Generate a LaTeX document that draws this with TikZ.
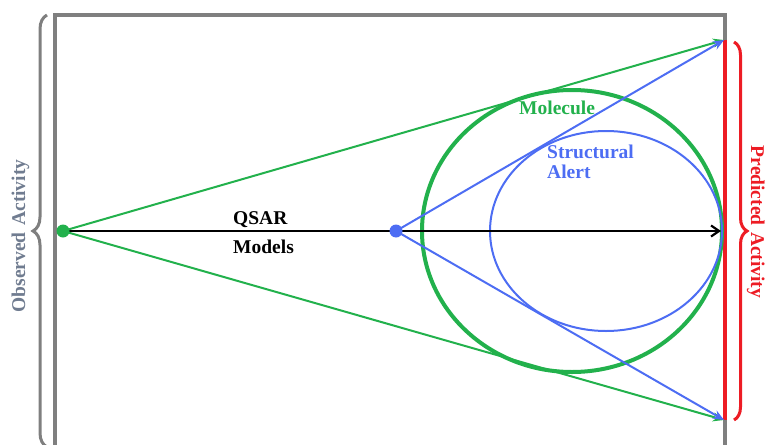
\documentclass[tikz,border=0pt]{standalone}
\usepackage{fontspec}
\setmainfont{Liberation Serif}
\usetikzlibrary{arrows.meta,decorations.pathreplacing}
\definecolor{cgreen}{RGB}{34,177,76}
\definecolor{cblue}{RGB}{77,109,243}
\definecolor{cred}{RGB}{237,28,36}
\definecolor{cgray}{RGB}{127,127,127}
\definecolor{cslate}{RGB}{112,124,144}
\tikzset{
  lbl/.style={font=\fontsize{19.5}{21}\selectfont\bfseries, inner sep=0pt},
  garrow/.style={draw=cgreen, line width=2pt, -{Stealth[length=11pt,width=9pt]}},
  barrow/.style={draw=cblue, line width=2pt, -{Stealth[length=11pt,width=9pt]}},
  dotnode/.style={circle, inner sep=0pt, minimum size=#1},
}
\begin{document}
\begin{tikzpicture}[x=1pt,y=-1pt]
\useasboundingbox (0,0) rectangle (767,444);
% frame
\draw[cgray, line width=3.5pt] (55,450) -- (55,15) -- (725,15) -- (725,450);
% red bar
\draw[cred, line width=4pt] (725,40) -- (725,420);
% braces
\draw[cgray, line width=3pt, decorate, decoration={brace, amplitude=14pt, aspect=0.5}] (47,447) -- (47,15);
\draw[cred, line width=3pt, decorate, decoration={brace, amplitude=13pt, aspect=0.5}] (734,42) -- (734,420);
\node[lbl, text=cslate, rotate=90, anchor=base] (obs) at (25,236) {Observed\,\,Activity};
\node[lbl, text=cred, rotate=-90, anchor=base] (pred) at (751,222) {Predicted\,\,Activity};
% shapes
\draw[cgreen, line width=4pt] (572,231) ellipse [x radius=150, y radius=141];
\draw[cblue, line width=2pt] (606,231) ellipse [x radius=116, y radius=100];
% points
\coordinate (T) at (724,40);
\coordinate (Bt) at (724,420);
\coordinate (E) at (721,231);
\coordinate (Oc) at (63,231);
\coordinate (Bc) at (396,231);
% connectors
\draw[line width=2.2pt, black, -{Straight Barb[length=8pt,width=11pt]}] (Oc) -- (E);
\draw[garrow] (Oc) -- (T);
\draw[garrow] (Oc) -- (Bt);
\draw[barrow] (Bc) -- (T);
\draw[barrow] (Bc) -- (Bt);
\node[dotnode=13pt, fill=cgreen] (O) at (Oc) {};
\node[dotnode=13pt, fill=cblue] (B) at (Bc) {};
% labels
\node[lbl, anchor=base west] (qsar) at (233,224) {QSAR};
\node[lbl, anchor=base west] (models) at (233,253) {Models};
\node[lbl, anchor=base west, text=cgreen] (mol) at (519,114) {Molecule};
\node[lbl, anchor=base west, text=cblue] (sa) at (547,158) {Structural};
\node[lbl, anchor=base west, text=cblue] (al) at (547,178) {Alert};
\end{tikzpicture}
\end{document}
